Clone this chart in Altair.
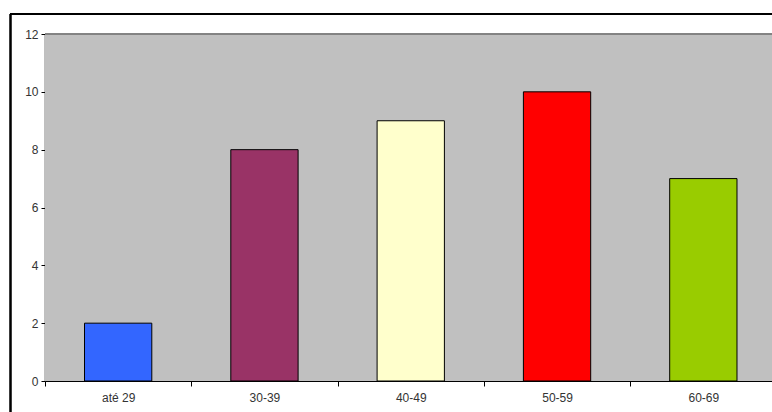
import altair as alt
import pandas as pd

categories = ["até 29", "30-39", "40-49", "50-59", "60-69"]
values = [2, 8, 9, 10, 7]
colors = ["#3366FF", "#993366", "#FFFFCC", "#FF0000", "#99CC00"]

df = pd.DataFrame({"cat": categories, "val": values, "col": colors})

PAD_L = 45
PAD_T = 34
W = 727
H = 347
BAND_W = 731.5

bg = alt.Chart(df).mark_rect(color="#C0C0C0", clip=False).encode(
    x=alt.value(0), x2=alt.value(W + 10), y=alt.value(0), y2=alt.value(H))

bars = alt.Chart(df).mark_bar(stroke="#000000", strokeWidth=1,
                              width=alt.RelativeBandSize(0.46)).encode(
    x=alt.X("cat:N", sort=categories, title=None,
            scale=alt.Scale(range=[0, BAND_W], paddingInner=0, paddingOuter=0),
            axis=alt.Axis(tickBand="extent", labelAngle=0, labelFont="Liberation Sans",
                          labelFontSize=12, labelColor="#333333", labelPadding=6,
                          tickColor="#000000", tickSize=5, domainColor="#000000",
                          domainWidth=1)),
    y=alt.Y("val:Q", title=None,
            scale=alt.Scale(domain=[0, 12], nice=False),
            axis=alt.Axis(values=[0, 2, 4, 6, 8, 10, 12], grid=False,
                          labelFont="Liberation Sans", labelFontSize=12,
                          labelColor="#333333", labelPadding=3, tickColor="#000000",
                          tickSize=4, domainColor="#000000", domainWidth=1.5)),
    color=alt.Color("col:N", scale=None, legend=None),
)

frame_top = alt.Chart(df).mark_rule(color="#000000", strokeWidth=1.5, clip=False).encode(
    x=alt.value(10 - PAD_L), x2=alt.value(W + 10), y=alt.value(14 - PAD_T))
frame_left = alt.Chart(df).mark_rule(color="#000000", strokeWidth=1.5, clip=False).encode(
    x=alt.value(10.5 - PAD_L), y=alt.value(14 - PAD_T), y2=alt.value(H + 60))
top_border = alt.Chart(df).mark_rule(color="#808080", strokeWidth=1, clip=False).encode(
    x=alt.value(0), x2=alt.value(W + 10), y=alt.value(0))

chart = alt.layer(bg, bars, frame_top, frame_left, top_border).properties(
    width=W, height=H,
    autosize=alt.AutoSizeParams(type="none"),
    padding={"left": PAD_L, "top": PAD_T, "right": 0, "bottom": 31},
    background="#FFFFFF",
).configure_view(fill="transparent", stroke="transparent", strokeWidth=0)

chart.save("out.html", embed_options={"renderer": "svg", "actions": False})
